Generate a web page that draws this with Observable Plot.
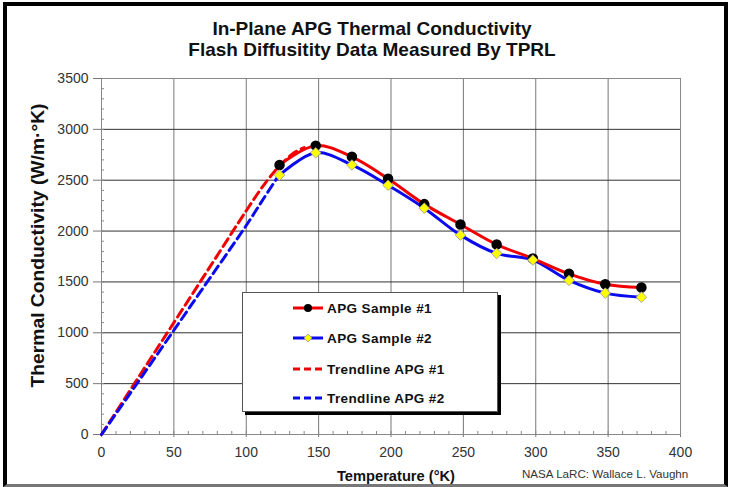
<!DOCTYPE html>
<html>
<head>
<meta charset="utf-8">
<script src="https://cdn.jsdelivr.net/npm/d3@7"></script>
<script src="https://cdn.jsdelivr.net/npm/@observablehq/plot@0.6"></script>
<style>
  html, body { margin: 0; padding: 0; background: #fff; }
  body { width: 732px; height: 487px; overflow: hidden; position: relative; font-family: "Liberation Sans", Arial, sans-serif; }
  #frame { position: absolute; left: 3px; top: 2px; width: 717px; height: 478px; border: 4px solid #000; border-bottom: 3px solid #777; box-sizing: content-box; pointer-events: none; }
  #title { position: absolute; left: 0; top: 18px; width: 732px; padding-left: 12px; box-sizing: border-box; text-align: center; font-weight: bold; font-size: 19px; line-height: 21px; color: #111; }
  #chart { position: absolute; left: 0; top: 62px; }
  #legend { position: absolute; left: 242px; top: 292px; width: 254px; height: 118px; border: 1px solid #555; background: #fff; box-shadow: 3px 3px 0 #000; }
  .row { position: absolute; left: 50px; height: 16px; display: flex; align-items: center; font-weight: bold; font-size: 13.5px; letter-spacing: 0.4px; color: #111; }
  .row svg { margin-right: 2px; }
  #caption { position: absolute; left: 522px; top: 467px; font-size: 11.6px; color: #333; }
</style>
</head>
<body>
<div id="title">In-Plane APG Thermal Conductivity<br>Flash Diffusitity Data Measured By TPRL</div>
<div id="chart"></div>
<div id="legend"></div>
<div id="caption">NASA LaRC: Wallace L. Vaughn</div>
<div id="frame"></div>
<script>
// ---- data ----
const temps = [123, 148, 173, 198, 223, 248, 273, 298, 323, 348, 373];
const sample1 = [2650, 2840, 2730, 2515, 2265, 2065, 1868, 1730, 1580, 1478, 1445];
const sample2 = [2550, 2770, 2650, 2450, 2225, 1960, 1780, 1715, 1515, 1390, 1350];

const trend1T = [0, 25, 50, 75, 100, 112, 123, 133, 140];
const trend1K = [0, 550, 1100, 1650, 2200, 2450, 2640, 2770, 2820];
const trend2T = [0, 25, 50, 75, 100, 112, 123];
const trend2K = [0, 510, 1025, 1540, 2055, 2320, 2560];

const xTicks = [0, 50, 100, 150, 200, 250, 300, 350, 400];
const yTicks = [0, 500, 1000, 1500, 2000, 2500, 3000, 3500];
const xMinor = d3.range(0, 401, 10);
const yMinor = d3.range(0, 3501, 100);

const seriesNames = ["APG Sample #1", "APG Sample #2", "Trendline APG #1", "Trendline APG #2"];
const yLabel = "Thermal Conductivity (W/m·°K)";
const xLabel = "Temperature (°K)";
const RED = "#f00000", BLUE = "#0a0aee";

const s1 = temps.map((t, i) => ({t, k: sample1[i]}));
const s2 = temps.map((t, i) => ({t, k: sample2[i]}));
const tr1 = trend1T.map((t, i) => ({t, k: trend1K[i]}));
const tr2 = trend2T.map((t, i) => ({t, k: trend2K[i]}));

const chart = Plot.plot({
  width: 732,
  height: 425,
  marginLeft: 101,
  marginRight: 52,
  marginTop: 16,
  marginBottom: 53,
  style: {fontFamily: "Liberation Sans, Arial, sans-serif", background: "transparent", overflow: "visible"},
  x: {domain: [0, 400], label: null},
  y: {domain: [0, 3500], label: null},
  marks: [
    Plot.gridX(xTicks.filter(d => d > 0), {stroke: "#777", strokeOpacity: 1}),
    Plot.gridY(yTicks.filter(d => d > 0), {stroke: "#333", strokeOpacity: 1}),
    Plot.axisY(yMinor, {tickSize: 3, tickFormat: () => "", dx: 3, stroke: "#888", label: null}),
    Plot.axisX(xMinor, {tickSize: 3, tickFormat: () => "", dy: -3, stroke: "#888", label: null}),
    Plot.axisY(yTicks, {tickSize: 8, tickPadding: 5, tickFormat: d3.format("d"), fontSize: 14, fill: "#333", stroke: "#777", label: null}),
    Plot.axisX(xTicks, {tickSize: 3, tickPadding: 10, tickFormat: d3.format("d"), fontSize: 14, fill: "#333", stroke: "#777", label: null}),
    Plot.frame({stroke: "#888"}),
    Plot.text([yLabel], {frameAnchor: "left", textAnchor: "middle", rotate: -90, dx: -63, dy: -11, fontSize: 18, fontWeight: "bold", fill: "#111", text: d => d}),
    Plot.text([xLabel], {frameAnchor: "bottom", textAnchor: "middle", dy: 46, dx: 5, fontSize: 14.5, fontWeight: "bold", fill: "#111", text: d => d}),
    Plot.line(tr1, {x: "t", y: "k", stroke: RED, strokeWidth: 3, strokeDasharray: "9,5", curve: "catmull-rom"}),
    Plot.line(tr2, {x: "t", y: "k", stroke: BLUE, strokeWidth: 3, strokeDasharray: "9,5", curve: "catmull-rom"}),
    Plot.line(s2, {x: "t", y: "k", stroke: BLUE, strokeWidth: 3, curve: "catmull-rom"}),
    Plot.line(s1, {x: "t", y: "k", stroke: RED, strokeWidth: 3, curve: "catmull-rom"}),
    Plot.dot(s1, {x: "t", y: "k", r: 4.5, fill: "#000", stroke: "#000"}),
    Plot.dot(s2, {x: "t", y: "k", r: 4.2, symbol: "square", rotate: 45, fill: "#ffff00", stroke: "#999", strokeWidth: 0.8})
  ]
});
document.getElementById("chart").appendChild(chart);
// stretch axis titles to the reference's text length
d3.select(chart).selectAll("text").each(function() {
  const t = this.textContent;
  if (t === yLabel) { this.setAttribute("textLength", 284); this.setAttribute("lengthAdjust", "spacingAndGlyphs"); }
  if (t === xLabel) { this.setAttribute("textLength", 118); this.setAttribute("lengthAdjust", "spacingAndGlyphs"); }
});

// ---- legend ----
const legend = document.getElementById("legend");
const rowsY = [7, 37, 68, 97];
seriesNames.forEach((name, i) => {
  const row = document.createElement("div");
  row.className = "row";
  row.style.top = rowsY[i] + "px";
  const color = i % 2 === 0 ? RED : BLUE;
  let sw;
  if (i === 0) {
    sw = `<line x1="0" y1="8" x2="30" y2="8" stroke="${color}" stroke-width="3"/><circle cx="15" cy="8" r="4" fill="#000"/>`;
  } else if (i === 1) {
    sw = `<line x1="0" y1="8" x2="30" y2="8" stroke="${color}" stroke-width="3"/><path d="M15,4L19,8L15,12L11,8Z" fill="#ffff00" stroke="#999" stroke-width="0.8"/>`;
  } else {
    sw = `<line x1="0" y1="8" x2="32" y2="8" stroke="${color}" stroke-width="3" stroke-dasharray="7,4"/>`;
  }
  row.innerHTML = `<svg width="32" height="16">${sw}</svg><span>${name}</span>`;
  legend.appendChild(row);
});
</script>
</body>
</html>
